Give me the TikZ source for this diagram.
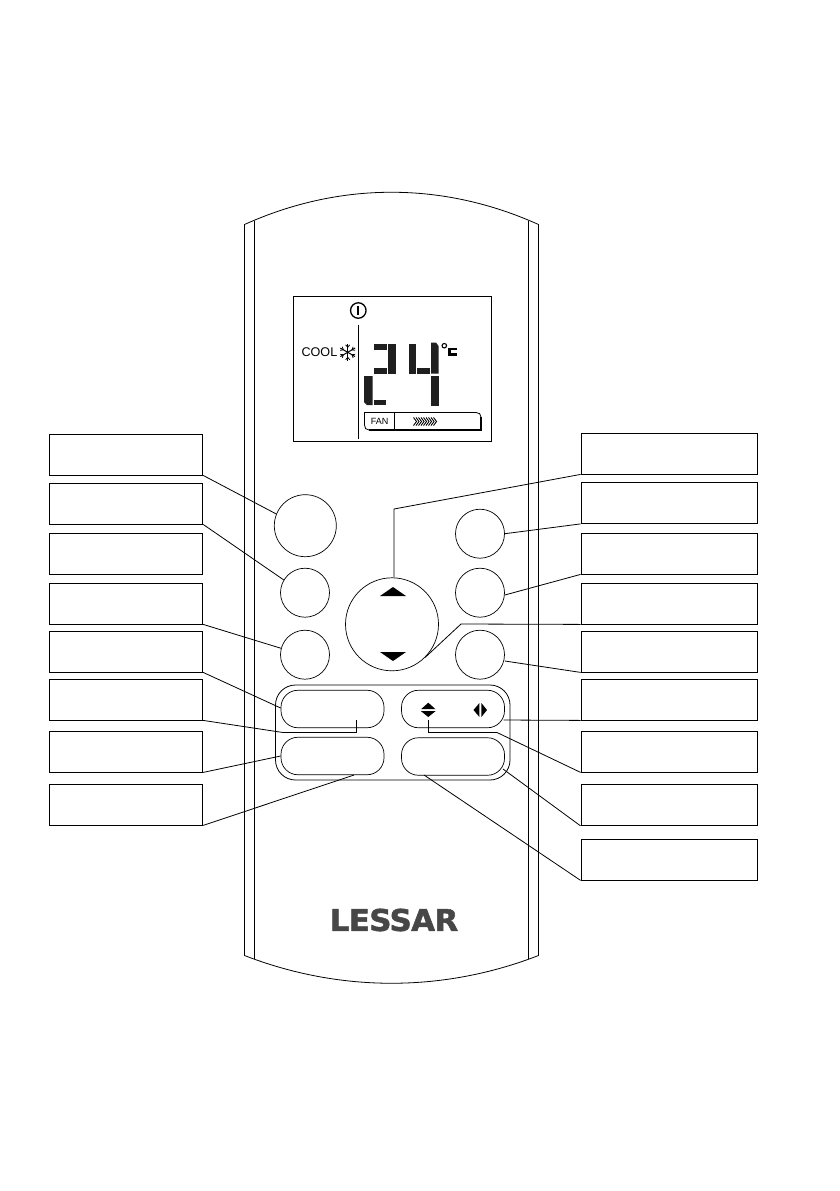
\documentclass[tikz,border=0pt]{standalone}
\usepackage{fontspec}
\setmainfont{Liberation Sans}
\newfontfamily\logofont[FakeBold=1.6,LetterSpace=-2]{DejaVu Sans Bold}
\usepackage{graphicx}

\tikzset{
    labelbox/.style={draw, line width=0.8pt, minimum width=153.5pt, minimum height=41pt, inner sep=0pt},
    rightbox/.style={labelbox, minimum width=176pt},
    roundbtn/.style={draw, circle, line width=0.7pt, inner sep=0pt},
    longbtn/.style={draw, rounded corners=17pt, line width=0.7pt, minimum width=103pt, minimum height=37.5pt, inner sep=0pt},
    lead/.style={line width=0.8pt},
    body/.style={line width=0.8pt},
    seg/.style={fill=black!88}
}

\begin{document}
\begin{tikzpicture}[x=1pt,y=-1pt]
        \useasboundingbox (0,0) rectangle (839,1191);

        % Carcassa
        \draw[body] (244.5,224.5) .. controls (340,181.5) and (443,181.5) .. (538.5,224.5) -- (538.5,955.5) .. controls (443,992.5) and (340,992.5) .. (244.5,955.5) -- cycle;
        \draw[body] (254.5,221) -- (254.5,958.5);
        \draw[body] (528.5,221) -- (528.5,958.5);

        % Pantalla
        \node[draw, line width=0.8pt, minimum width=198pt, minimum height=145pt, inner sep=0pt] (lcd) at (392,368.5) {};
        \node[draw, circle, line width=1.3pt, minimum size=15.5pt, inner sep=0pt] (power) at (358.3,310.5) {};
        \draw[line width=1.8pt] (power.center) ++(0,-4.5) -- ++(0,9);
        \draw[line width=0.9pt] (358,325) -- (358,438.5);
        \node[anchor=east, inner sep=0pt, font=\fontsize{12.6}{14}\selectfont] (cool) at (337.5,352.5) {COOL};
        \foreach \a in {30,90,150} {
            \draw[line width=1pt] (347.7,352.3) ++(\a:-8.5) -- ++(\a:17);
        }
        \foreach \a in {30,90,150,210,270,330} {
            \draw[line width=0.8pt] (347.7,352.3) ++(\a:5) -- ++(\a+40:3.2);
            \draw[line width=0.8pt] (347.7,352.3) ++(\a:5) -- ++(\a-40:3.2);
        }

        % Xifres
        \fill[seg] (374,343.5) rectangle (387,349.5);
        \fill[seg] (388,343.5) rectangle (395.5,373.5);
        \fill[seg] (374,368) rectangle (387,373.5);
        \fill[seg] (408.5,343.5) rectangle (416,373.5);
        \fill[seg] (417,368) rectangle (429.5,373.5);
        \fill[seg] (431,342.5) -- (436,342.5) -- (438.5,346) -- (438.5,373.5) -- (431,373.5) -- cycle;
        \fill[seg] (364,376) -- (372.5,376) -- (372.5,405) -- (367,405) -- (364,402) -- cycle;
        \fill[seg] (374,399.5) rectangle (386,405);
        \fill[seg] (431,376) rectangle (438.5,405.5);
        \node[draw, circle, line width=1.1pt, minimum size=4.5pt, inner sep=0pt] (deg) at (444.3,345.7) {};
        \draw[line width=2.7pt] (457,349.1) -- (449.6,349.1) -- (449.6,354.4) -- (457,354.4);

        % Barra del ventilador
        \draw[line width=1.8pt] (395,412.5) -- (476,412.5);
        \draw[line width=0.8pt] (476,412.5) .. controls (479,412.5) and (481,414) .. (481,417);
        \draw[line width=1.8pt] (481,417) -- (481,430) -- (369,430);
        \draw[line width=0.8pt] (369,430) .. controls (366,430) and (364.5,428) .. (364.5,425) -- (364.5,412.5) -- (395,412.5);
        \draw[line width=0.9pt] (394.5,412.5) -- (394.5,430);
        \node[inner sep=0pt, font=\fontsize{9}{10}\selectfont] (fan) at (379.5,421.5) {FAN};
        \foreach \x in {413.5,416,...,434} {
            \draw[line width=0.9pt] (\x,417.5) -- (\x+3,421.5) -- (\x,425.5);
        }

        % Botons rodons
        \node[roundbtn, minimum size=62pt] (btnpower) at (305.3,525.7) {};
        \node[roundbtn, minimum size=49pt] (btnmode) at (305,592.7) {};
        \node[roundbtn, minimum size=49pt] (btnsleep) at (305,654.7) {};
        \node[roundbtn, minimum size=49pt] (btnfan) at (480,533.7) {};
        \node[roundbtn, minimum size=49pt] (btntimer) at (480,592.7) {};
        \node[roundbtn, minimum size=49pt] (btnclock) at (480,654.7) {};
        \node[roundbtn, minimum size=93pt] (btntemp) at (392,624.3) {};
        \fill (380,596) -- (406,596) -- (393,587) -- cycle;
        \fill (380,652) -- (406,652) -- (393,661) -- cycle;

        % Botons allargats
        \draw[line width=0.8pt, rounded corners=20pt] (275.5,685) rectangle (510,780);
        \node[longbtn] (btnturbo) at (332.5,709) {};
        \node[longbtn] (btnswing) at (453,709) {};
        \node[longbtn] (btnled) at (332.5,756) {};
        \node[longbtn] (btnfollow) at (453,756.5) {};
        \fill (421,709.2) -- (435.5,709.2) -- (428.3,702.7) -- cycle;
        \fill (421,711.2) -- (435.5,711.2) -- (428.3,717) -- cycle;
        \fill (479.4,703) -- (479.4,717) -- (473.5,710) -- cycle;
        \fill (481.4,703) -- (481.4,717) -- (487,710) -- cycle;

        % Logotip
        \node[inner sep=0pt, text=black!72] (logo) at (394,920) {\scalebox{1.03}[1]{\fontsize{30}{31}\logofont LESSAR}};

        % Caixes esquerra
        \node[labelbox] (la) at (126,454.5) {};
        \node[labelbox] (lb) at (126,503.5) {};
        \node[labelbox] (lc) at (126,553.5) {};
        \node[labelbox] (ld) at (126,603.5) {};
        \node[labelbox] (le) at (126,651.5) {};
        \node[labelbox] (lf) at (126,699.5) {};
        \node[labelbox] (lg) at (126,751.5) {};
        \node[labelbox] (lh) at (126,804.5) {};

        % Caixes dreta
        \node[rightbox] (ra) at (669,453.5) {};
        \node[rightbox] (rb) at (669,503) {};
        \node[rightbox] (rc) at (669,553.5) {};
        \node[rightbox] (rd) at (669,603.5) {};
        \node[rightbox] (re) at (669,651.5) {};
        \node[rightbox] (rf) at (669,699.5) {};
        \node[rightbox] (rg) at (669,751.5) {};
        \node[rightbox] (rh) at (669,805) {};
        \node[rightbox] (ri) at (669,859.5) {};

        % Punts de pas
        \coordinate (turboin) at (356.5,720);
        \coordinate (swingin) at (428.5,720);
        \coordinate (ledin) at (354,775);
        \coordinate (followin) at (424,775);

        % Línies
        \draw[lead] (la.south east) -- (btnpower.158);
        \draw[lead] (lb.south east) -- (btnmode.149);
        \draw[lead] (ld.south east) -- (btnsleep.165);
        \draw[lead] (le.south east) -- (btnturbo.west |- 0,708);
        \draw[lead] (lf.south east) -- (283,732.5) -- (356.5,732.5) -- (turboin);
        \draw[lead] (lg.south east) -- (btnled.west);
        \draw[lead] (lh.south east) -- (ledin);
        \draw[lead] (ra.south west) -- (394,509) -- (btntemp.north -| 394,0);
        \draw[lead] (rb.south west) -- (btnfan.east);
        \draw[lead] (rc.south west) -- (btntimer.east |- 0,595);
        \draw[lead] (rd.south west) -- (461,624) -- (btntemp.315);
        \draw[lead] (re.south west) -- (btnclock.east |- 0,661);
        \draw[lead] (rf.south west) -- (503.5,720);
        \draw[lead] (rg.south west) -- (497,732.5) -- (428.5,732.5) -- (swingin);
        \draw[lead] (rh.south west) -- (503,769);
        \draw[lead] (ri.south west) -- (followin);
    \end{tikzpicture}
\end{document}
